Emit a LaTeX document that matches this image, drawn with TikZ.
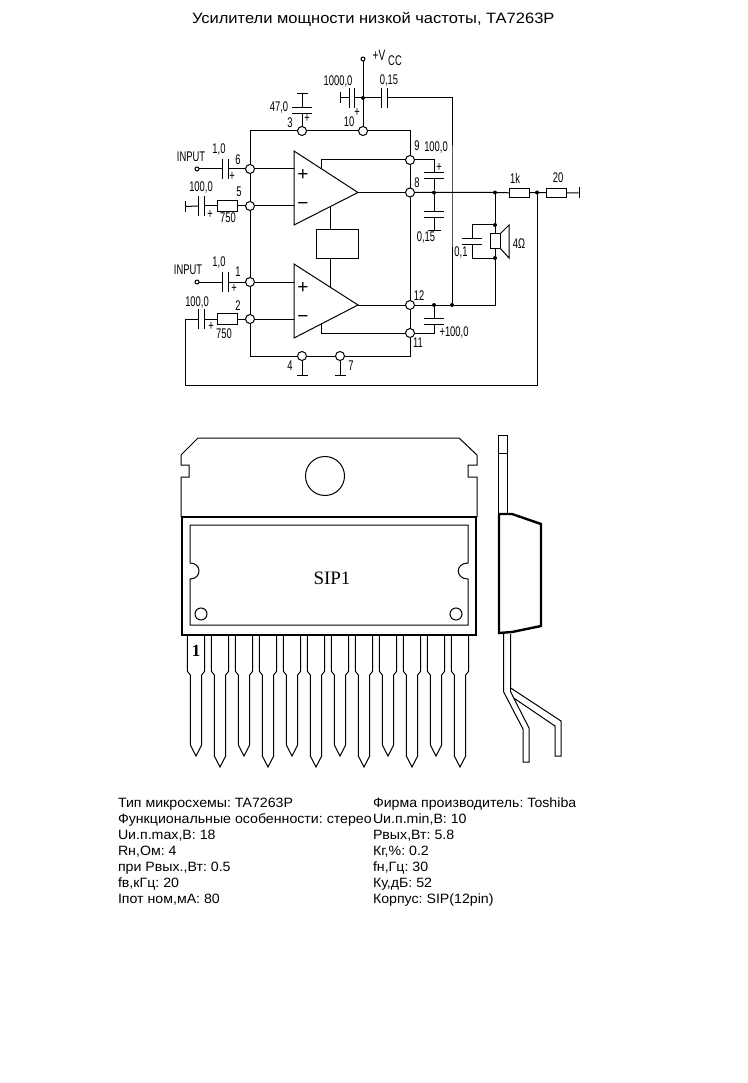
\documentclass[tikz,border=0pt]{standalone}
\usepackage{fontspec}
\setmainfont{Liberation Sans}
\newfontfamily\narrowf[FakeStretch=0.67]{Liberation Sans}
\newfontfamily\infof[FakeStretch=1.05]{Liberation Sans}
\newfontfamily\titlef[FakeStretch=1.1]{Liberation Sans}
\newfontfamily\serf{Liberation Serif}
\usetikzlibrary{calc}
\tikzset{
  wire/.style={line width=1pt,line cap=butt,line join=miter},
  pinc/.style={circle,draw,fill=white,line width=1pt,inner sep=0pt,minimum size=9pt,outer sep=0pt},
  termc/.style={circle,draw,fill=white,line width=1pt,inner sep=0pt,minimum size=4pt,outer sep=0pt},
  jdot/.style={circle,fill=black,inner sep=0pt,minimum size=4pt,outer sep=0pt},
  resbox/.style={rectangle,draw,fill=white,line width=1pt,inner sep=0pt,outer sep=0pt,minimum width=20pt,minimum height=11pt},
  vplate/.style={rectangle,fill=black,inner sep=0pt,outer sep=0pt,minimum width=0.8pt,minimum height=20pt},
  hplate/.style={rectangle,fill=black,inner sep=0pt,outer sep=0pt,minimum height=0.8pt,minimum width=20pt},
  gndv/.style={rectangle,fill=black,inner sep=0pt,outer sep=0pt,minimum width=0.8pt,minimum height=11pt},
  gndh/.style={rectangle,fill=black,inner sep=0pt,outer sep=0pt,minimum height=0.8pt,minimum width=11pt},
  lab/.style={inner sep=0pt,outer sep=0pt,font=\narrowf\fontsize{14}{14}\selectfont},
  info/.style={inner sep=0pt,outer sep=0pt,anchor=base west,font=\infof\fontsize{13.5}{14}\selectfont\frenchspacing},
  sym/.style={inner sep=0pt,outer sep=0pt,font=\fontsize{19}{19}\selectfont},
  thin1/.style={line width=1pt,line join=miter},
  thick1/.style={line width=2.4pt,line join=miter},
}
\begin{document}
\begin{tikzpicture}[x=1pt,y=-1pt]
\useasboundingbox (0,0) rectangle (747,1083);
\fill[white] (0,0) rectangle (747,1083);

% title
\node[info,font=\titlef\fontsize{15}{15}\selectfont\frenchspacing] at (192,24) {Усилители мощности низкой частоты, ТА7263Р};

% ---- pins
\node[pinc] (p3) at (302,131) {};
\node[pinc] (p10) at (363,131) {};
\node[pinc] (p6) at (250,169) {};
\node[pinc] (p5) at (250,206) {};
\node[pinc] (p1) at (250,282) {};
\node[pinc] (p2) at (250,319) {};
\node[pinc] (p4) at (302,356) {};
\node[pinc] (p7) at (340,356) {};
\node[pinc] (p9) at (410,160) {};
\node[pinc] (p8) at (410,192.5) {};
\node[pinc] (p12) at (410,305) {};
\node[pinc] (p11) at (410,333) {};
\node[termc] (vcc) at (363,59) {};
\node[termc] (in6) at (197,169) {};
\node[termc] (in1) at (197,282) {};

% junctions
\node[jdot] (j10) at (363,98) {};
\node[jdot] (j8c) at (434,192.5) {};
\node[jdot] (jsp) at (495,192.5) {};
\node[jdot] (jfb) at (537,192.5) {};
\node[jdot] (jsa) at (495,225) {};
\node[jdot] (jsb) at (495,258) {};
\node[jdot] (j12c) at (434,305) {};
\node[jdot] (j12f) at (452,305) {};

% rail corners and free ends
\coordinate (tl) at (250,131);
\coordinate (tr) at (410,131);
\coordinate (bl) at (250,356);
\coordinate (br) at (410,356);
\coordinate (c015r) at (452,98);
\coordinate (cross) at (452,192.5);
\coordinate (s12) at (495,305);
\coordinate (fbb) at (537,385);
\coordinate (fbl) at (185,385);
\coordinate (fbu) at (185,319);
\coordinate (c9) at (434,160);
\coordinate (c11) at (434,333);
\coordinate (ca) at (472,225);
\coordinate (cb) at (472,258);

% amplifiers
\coordinate (uTop) at (294,151);
\coordinate (uBot) at (294,225);
\coordinate (uTip) at (358,192.5);
\coordinate (uP) at (294,169);
\coordinate (uM) at (294,206);
\coordinate (uFb) at (321,168.2);
\coordinate (uFbc) at (321,160);
\coordinate (uLink) at (330,206.5);
\coordinate (lTop) at (294,264);
\coordinate (lBot) at (294,338);
\coordinate (lTip) at (358,305);
\coordinate (lP) at (294,282);
\coordinate (lM) at (294,319);
\coordinate (lFb) at (321,324);
\coordinate (lFbc) at (321,333);
\coordinate (lLink) at (330,287);
\draw[wire] (uTop) -- (uTip) -- (uBot) -- cycle;
\draw[wire] (lTop) -- (lTip) -- (lBot) -- cycle;
\node[rectangle,draw,line width=1pt,inner sep=0pt,outer sep=0pt,minimum width=42pt,minimum height=28pt] (bias) at (337.5,244) {};
\coordinate (bT) at (330,230);
\coordinate (bB) at (330,258);
\node[sym] at (303,175) {+};
\node[sym] at (303,206.5) {−};
\node[sym] at (303,288) {+};
\node[sym] at (303,319) {−};

% capacitors (plates)
\node[vplate] (c1a) at (349.5,98) {};
\node[vplate] (c1b) at (354.5,98) {};
\node[gndv] (g1) at (340,98) {};
\node[vplate] (c2a) at (381.5,98) {};
\node[vplate] (c2b) at (387,98) {};
\node[hplate] (c3a) at (302,113.5) {};
\node[hplate] (c3b) at (302,107.5) {};
\node[gndh] (g3) at (302,93) {};
\node[vplate] (c6a) at (222.5,169) {};
\node[vplate] (c6b) at (228,169) {};
\node[gndv] (g5) at (185,206.5) {};
\node[vplate] (c5a) at (198.5,206) {};
\node[vplate] (c5b) at (204,206) {};
\node[resbox] (r5) at (227,206) {};
\node[vplate] (c1i) at (222.5,282) {};
\node[vplate] (c1j) at (228,282) {};
\node[vplate] (c2i) at (198.5,319) {};
\node[vplate] (c2j) at (204,319) {};
\node[resbox] (r2) at (227,319) {};
\node[gndh] (g4) at (302,375) {};
\node[gndh] (g7) at (340,375) {};
\node[hplate] (c9a) at (434,172.5) {};
\node[hplate] (c9b) at (434,178) {};
\node[hplate] (c8a) at (434,211.5) {};
\node[hplate] (c8b) at (434,217) {};
\node[gndh,minimum width=13pt] (g8) at (434,230) {};
\node[hplate] (c12a) at (434,318.5) {};
\node[hplate] (c12b) at (434,324) {};
\node[hplate] (csa) at (472,238.5) {};
\node[hplate] (csb) at (472,244) {};
\node[resbox,minimum width=20pt,minimum height=9pt] (r1k) at (519,193) {};
\node[resbox,minimum width=20pt,minimum height=9pt] (r20) at (556,193) {};
\node[gndv] (g20) at (579,193) {};
\node[resbox,minimum width=10pt,minimum height=14pt] (rsp) at (495,241) {};

% wires
\draw[wire] (vcc) -- (j10) -- (p10);
\draw[wire] (g1) -- (c1a);
\draw[wire] (c1b) -- (j10) -- (c2a);
\draw[wire] (c2b) -- (c015r) -- (cross) -- (j12f);
\draw[wire] (p3) -- (c3a);
\draw[wire] (c3b) -- (g3);
\draw[wire] (p6) -- (tl) -- (p3) -- (p10) -- (tr) -- (p9);
\draw[wire] (p6) -- (p5) -- (p1) -- (p2) -- (bl) -- (p4) -- (p7) -- (br) -- (p11);
\draw[wire] (p9) -- (p8) -- (p12) -- (p11);
\draw[wire] (in6) -- (c6a);
\draw[wire] (c6b) -- (p6);
\draw[wire] (g5) -- (c5a);
\draw[wire] (c5b) -- (r5) -- (p5);
\draw[wire] (in1) -- (c1i);
\draw[wire] (c1j) -- (p1);
\draw[wire] (c2j) -- (r2) -- (p2);
\draw[wire] (c2i) -- (fbu) -- (fbl) -- (fbb) -- (jfb);
\draw[wire] (p6) -- (uP);
\draw[wire] (p5) -- (uM);
\draw[wire] (p1) -- (lP);
\draw[wire] (p2) -- (lM);
\draw[wire] (uTip) -- (p8);
\draw[wire] (lTip) -- (p12);
\draw[wire] (uFb) -- (uFbc) -- (p9);
\draw[wire] (lFb) -- (lFbc) -- (p11);
\draw[wire] (uLink) -- (bT);
\draw[wire] (bB) -- (lLink);
\draw[wire] (p4) -- (g4);
\draw[wire] (p7) -- (g7);
\draw[wire] (p9) -- (c9) -- (c9a);
\draw[wire] (c9b) -- (j8c) -- (c8a);
\draw[wire] (c8b) -- (g8);
\draw[wire] (p12) -- (j12c) -- (j12f) -- (s12) -- (jsb);
\draw[wire] (j12c) -- (c12a);
\draw[wire] (c12b) -- (c11) -- (p11);
\draw[wire] (p8) -- (j8c) -- (jsp) -- (r1k) -- (jfb) -- (r20) -- (g20);
\draw[wire] (jsp) -- (jsa) -- (rsp) -- (jsb);
\draw[wire] (jsa) -- (ca) -- (csa);
\draw[wire] (csb) -- (cb) -- (jsb);
\draw[wire] (rsp.north east) -- (509,225) -- (509,258) -- (rsp.south east);

% labels
\node[lab,font=\narrowf\fontsize{15}{15}\selectfont] at (379,55) {+V};
\node[lab,font=\narrowf\fontsize{14}{14}\selectfont] at (395,61) {CC};
\node[lab] at (338,82) {1000,0};
\node[lab] at (389,81) {0,15};
\node[lab] at (279,108) {47,0};
\node[lab] at (290,123) {3};
\node[lab] at (307,118) {+};
\node[lab] at (357,112) {+};
\node[lab] at (349,122) {10};
\node[lab] at (191,157) {INPUT};
\node[lab] at (219,150) {1,0};
\node[lab] at (238,160) {6};
\node[lab] at (232,176) {+};
\node[lab] at (201,188) {100,0};
\node[lab] at (239,192) {5};
\node[lab] at (210,214) {+};
\node[lab] at (228,218) {750};
\node[lab] at (188,270) {INPUT};
\node[lab] at (219,263) {1,0};
\node[lab] at (238,272) {1};
\node[lab] at (234,288) {+};
\node[lab] at (197,303) {100,0};
\node[lab] at (238,306) {2};
\node[lab] at (211,326) {+};
\node[lab] at (224,334) {750};
\node[lab] at (290,366) {4};
\node[lab] at (351,366) {7};
\node[lab] at (417,146) {9};
\node[lab] at (436,148) {100,0};
\node[lab] at (417,183) {8};
\node[lab] at (439,167) {+};
\node[lab] at (426,238) {0,15};
\node[lab] at (515,178) {1k};
\node[lab] at (558,178) {20};
\node[lab] at (519,244) {4Ω};
\node[lab] at (461,253) {0,1};
\node[lab] at (419,296) {12};
\node[lab] at (418,343) {11};
\node[lab] at (454,333) {+100,0};

% ---- package front view
\draw[thin1] (181,517) -- (181,477) -- (189,477) -- (189,465) -- (181,465) -- (181,455) -- (198,438) -- (459,438) -- (477,455) -- (477,465) -- (468,465) -- (468,477) -- (477,477) -- (477,517);
\draw[thin1] (325,476) circle[radius=19.5];
\foreach \i in {0,...,11}{
  \pgfmathsetmacro{\xl}{187.3+24*\i}
  \pgfmathsetmacro{\xr}{\xl+17.4}
  \pgfmathsetmacro{\xa}{\xl+3}
  \pgfmathsetmacro{\xb}{\xr-3}
  \pgfmathsetmacro{\xm}{\xl+8.7}
  \pgfmathsetmacro{\ye}{mod(\i,2)==0 ? 745 : 756}
  \pgfmathsetmacro{\yt}{\ye+11}
  \draw[thin1] (\xl,635) -- (\xl,671) -- (\xa,675) -- (\xa,\ye) -- (\xm,\yt) -- (\xb,\ye) -- (\xb,675) -- (\xr,671) -- (\xr,635);
}
\draw[thick1,fill=white] (182,517) rectangle (476,635);
\draw[thin1] (190,525) -- (468,525) -- (468,563) .. controls (455,563) and (455,579) .. (468,579) -- (468,625) -- (190,625) -- (190,579) .. controls (202,579) and (202,563) .. (190,563) -- cycle;
\draw[thin1] (201,614) circle[radius=6];
\draw[thin1] (456,614) circle[radius=6];
\node[inner sep=0pt,font=\serf\fontsize{19}{19}\selectfont] (sip) at (332,578) {SIP1};
\node[inner sep=0pt,font=\serf\bfseries\fontsize{17}{17}\selectfont] (one) at (196,651) {1};

% ---- package side view
\draw[thin1] (498,513) -- (498,435) -- (507.3,435) -- (507.3,513);
\draw[thin1] (498,453) -- (507.3,453);
\draw[thin1] (503.7,634) -- (503.7,692) -- (523,729) -- (523,762) -- (529,762) -- (529,728) -- (513.7,698) -- (555,726) -- (555,756) -- (561,756) -- (561,721) -- (510.7,688);
\draw[thin1] (510.7,634) -- (510.7,692) -- (513.7,698);
\draw[thick1,fill=white] (499,514) -- (512,514) -- (541,524) -- (541,626) -- (512,632) -- (499,633) -- cycle;

% ---- data
\node[info] at (118,807) {Тип микросхемы: TA7263P};
\node[info] at (118,823) {Функциональные особенности: стерео};
\node[info] at (118,839) {Uи.п.max,В: 18};
\node[info] at (118,855) {Rн,Ом: 4};
\node[info] at (118,871) {при Рвых.,Вт: 0.5};
\node[info] at (118,887) {fв,кГц: 20};
\node[info] at (118,903) {Iпот ном,мА: 80};
\node[info] at (373,807) {Фирма производитель: Toshiba};
\node[info] at (373,823) {Uи.п.min,В: 10};
\node[info] at (373,839) {Pвых,Вт: 5.8};
\node[info] at (373,855) {Кг,\%: 0.2};
\node[info] at (373,871) {fн,Гц: 30};
\node[info] at (373,887) {Ку,дБ: 52};
\node[info] at (373,903) {Корпус: SIP(12pin)};
\end{tikzpicture}
\end{document}
